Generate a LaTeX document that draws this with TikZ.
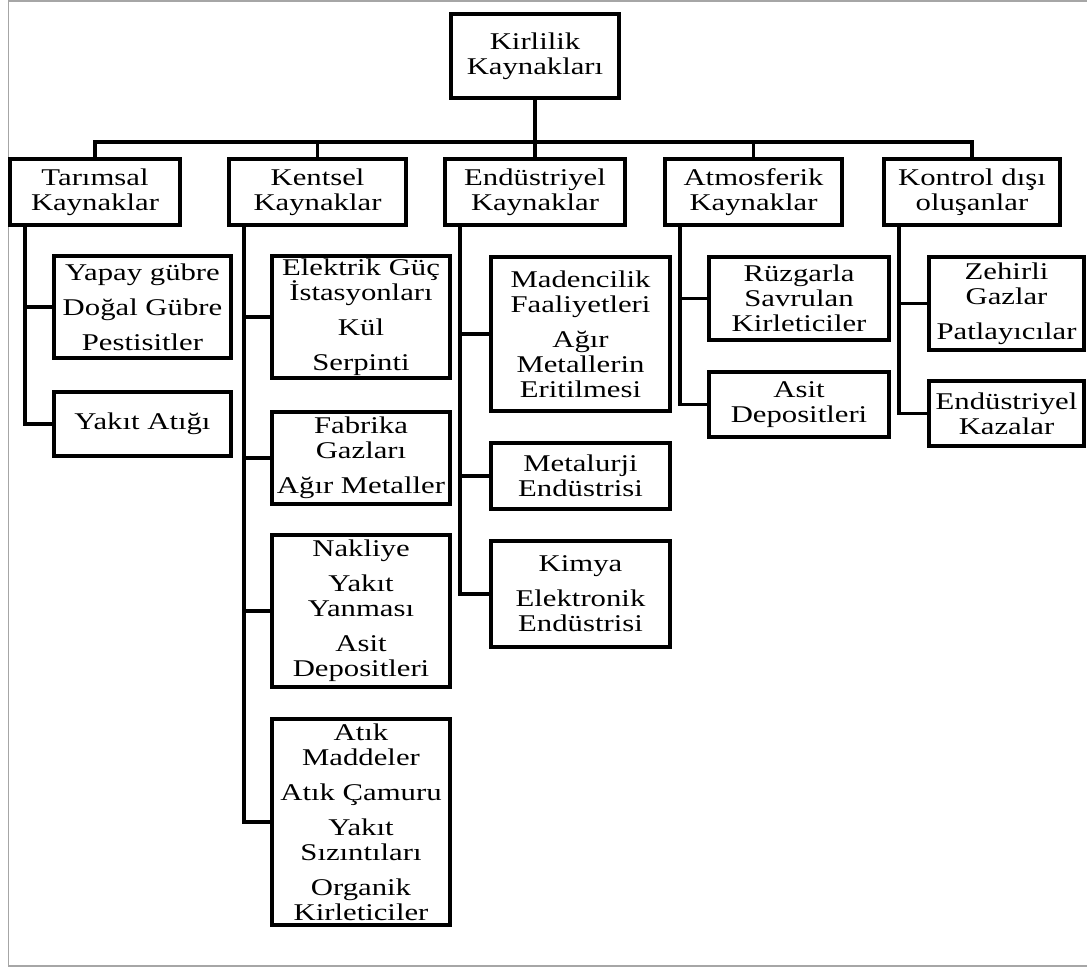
\documentclass[tikz,border=0pt]{standalone}
\usepackage{fontspec}
\setmainfont{Liberation Serif}[FakeStretch=1.28]
\begin{document}
\begin{tikzpicture}[x=0.5pt,y=-0.5pt]
\tikzstyle{kutu}=[rectangle,draw=black,line width=2pt,fill=white,align=center,inner sep=0pt,font=\fontsize{12}{12.5}\selectfont]
\tikzstyle{cizgi}=[line width=1.6pt]
\useasboundingbox (0,0) rectangle (1087,967);
\draw[gray!70,line width=0.6pt] (8.5,1) rectangle (1100,966);
% top and first level
\node (kaynak)[kutu,minimum width=84pt,minimum height=42pt] at (535,56) {Kirlilik\\Kaynakları};
\node (tarim)[kutu,minimum width=85pt,minimum height=33pt] at (95,192) {Tarımsal\\Kaynaklar};
\node (kent)[kutu,minimum width=88.5pt,minimum height=33pt] at (317.5,192) {Kentsel\\Kaynaklar};
\node (endus)[kutu,minimum width=90pt,minimum height=33pt] at (535,192) {Endüstriyel\\Kaynaklar};
\node (atmos)[kutu,minimum width=88.5pt,minimum height=33pt] at (753.5,192) {Atmosferik\\Kaynaklar};
\node (kontrol)[kutu,minimum width=88pt,minimum height=33pt] at (972,192) {Kontrol dışı\\oluşanlar};
% second level
\node (gubre)[kutu,minimum width=88.5pt,minimum height=51pt] at (142.5,307) {Yapay gübre\\[5pt]Doğal Gübre\\[5pt]Pestisitler};
\node (yakit)[kutu,minimum width=88.5pt,minimum height=32pt] at (142.5,424) {Yakıt Atığı};
\node (elektrik)[kutu,minimum width=89pt,minimum height=61pt] at (361,317) {Elektrik Güç\\İstasyonları\\[5pt]Kül\\[5pt]Serpinti};
\node (fabrika)[kutu,minimum width=89pt,minimum height=46pt] at (361,458) {Fabrika\\Gazları\\[5pt]Ağır Metaller};
\node (nakliye)[kutu,minimum width=89pt,minimum height=76pt] at (361,611) {Nakliye\\[5pt]Yakıt\\Yanması\\[5pt]Asit\\Depositleri};
\node (atik)[kutu,minimum width=89pt,minimum height=103pt] at (361,822) {Atık\\Maddeler\\[5pt]Atık Çamuru\\[5pt]Yakıt\\Sızıntıları\\[5pt]Organik\\Kirleticiler};
\node (maden)[kutu,minimum width=89.5pt,minimum height=77pt] at (580.5,334) {Madencilik\\Faaliyetleri\\[5pt]Ağır\\Metallerin\\Eritilmesi};
\node (metal)[kutu,minimum width=89.5pt,minimum height=33pt] at (580.5,476) {Metalurji\\Endüstrisi};
\node (kimya)[kutu,minimum width=89.5pt,minimum height=53pt] at (580.5,594) {Kimya\\[5pt]Elektronik\\Endüstrisi};
\node (ruzgar)[kutu,minimum width=90pt,minimum height=41.5pt] at (799,298.5) {Rüzgarla\\Savrulan\\Kirleticiler};
\node (asit)[kutu,minimum width=90pt,minimum height=32.5pt] at (799,404.5) {Asit\\Depositleri};
\node (zehir)[kutu,minimum width=77.5pt,minimum height=46.5pt] at (1006.5,303.5) {Zehirli\\Gazlar\\[5pt]Patlayıcılar};
\node (kaza)[kutu,minimum width=77.5pt,minimum height=32.5pt] at (1006.5,413.5) {Endüstriyel\\Kazalar};
% bus
\coordinate (bus) at (535,142);
\draw[cizgi] (kaynak.south) -- (bus);
\draw[cizgi] (bus) -| (tarim.north);
\draw[cizgi] (bus) -| (kent.north);
\draw[cizgi] (bus) -- (endus.north);
\draw[cizgi] (bus) -| (atmos.north);
\draw[cizgi] (bus) -| (kontrol.north);
% trunks
\draw[cizgi] (tarim.south west) ++(17,0) |- (gubre.west);
\draw[cizgi] (tarim.south west) ++(17,0) |- (yakit.west);
\draw[cizgi] (kent.south west) ++(17,0) |- (elektrik.west);
\draw[cizgi] (kent.south west) ++(17,0) |- (fabrika.west);
\draw[cizgi] (kent.south west) ++(17,0) |- (nakliye.west);
\draw[cizgi] (kent.south west) ++(17,0) |- (atik.west);
\draw[cizgi] (endus.south west) ++(17,0) |- (maden.west);
\draw[cizgi] (endus.south west) ++(17,0) |- (metal.west);
\draw[cizgi] (endus.south west) ++(17,0) |- (kimya.west);
\draw[cizgi] (atmos.south west) ++(17,0) |- (ruzgar.west);
\draw[cizgi] (atmos.south west) ++(17,0) |- (asit.west);
\draw[cizgi] (kontrol.south west) ++(17,0) |- (zehir.west);
\draw[cizgi] (kontrol.south west) ++(17,0) |- (kaza.west);
\end{tikzpicture}
\end{document}
